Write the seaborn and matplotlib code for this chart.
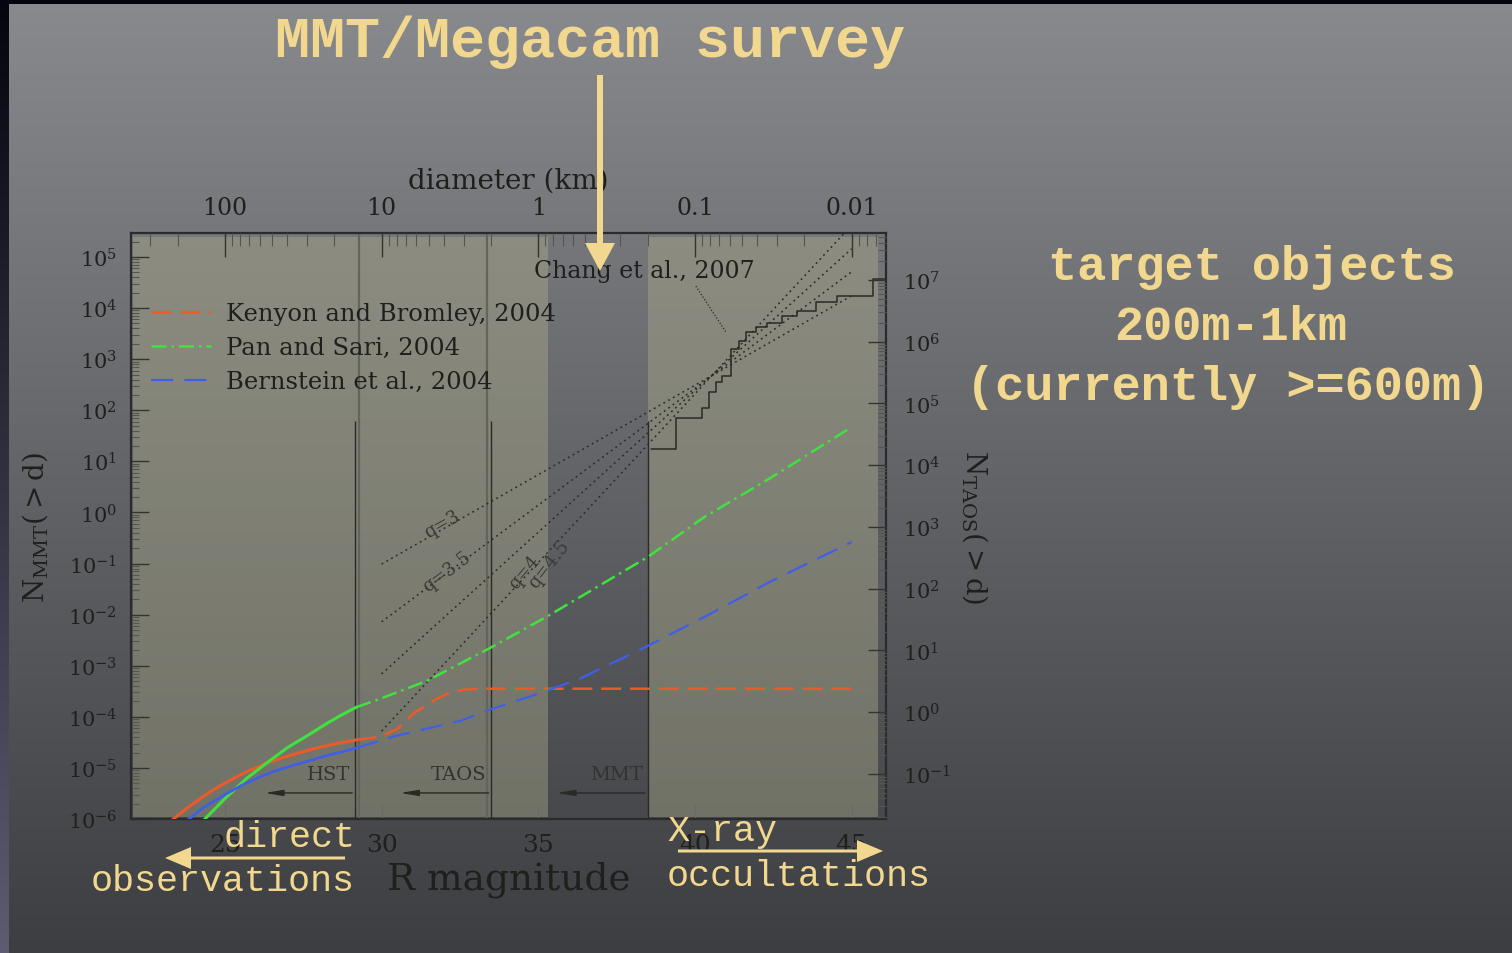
import numpy as np
import matplotlib
matplotlib.use("Agg")
import matplotlib.pyplot as plt
import seaborn as sns
from matplotlib.ticker import LogLocator, NullFormatter, FuncFormatter, NullLocator

# ---- values (x = R magnitude, y = log10 N_MMT(>d)) ----
kb_solid_R = [23.25, 23.8, 24.4, 24.84, 25.6, 26.34, 27.1, 27.8, 28.5, 29.2]
kb_solid_logN = [-6.05, -5.78, -5.52, -5.35, -5.10, -4.90, -4.75, -4.63, -4.53, -4.45]
kb_dash_R = [29.2, 29.94, 30.5, 31.0, 31.75, 32.2, 32.6, 33.1, 45.0]
kb_dash_logN = [-4.45, -4.39, -4.24, -3.94, -3.65, -3.52, -3.47, -3.45, -3.45]

ps_solid_R = [24.28, 25.0, 25.7, 26.34, 27.0, 27.6, 28.25, 28.7, 29.2]
ps_solid_logN = [-6.05, -5.60, -5.20, -4.90, -4.60, -4.38, -4.13, -3.97, -3.81]
ps_dash_R = [29.2, 29.94, 31.43, 33.44, 35.3, 38.5, 40.3, 42.45, 45.0]
ps_dash_logN = [-3.81, -3.65, -3.30, -2.66, -2.03, -0.87, -0.09, 0.69, 1.67]

bern_solid_R = [23.75, 24.3, 25.06, 25.6, 26.1, 26.6, 27.17, 28.25, 29.2]
bern_solid_logN = [-6.05, -5.78, -5.50, -5.32, -5.18, -5.06, -4.95, -4.76, -4.61]
bern_dash_R = [29.2, 30.35, 32.5, 33.5, 34.8, 36.3, 38.5, 40.35, 42.45, 45.0]
bern_dash_logN = [-4.61, -4.39, -4.08, -3.85, -3.59, -3.26, -2.61, -2.03, -1.34, -0.58]

# power-law reference lines (dotted), start at R=30 and end at R=45
q_names = ["q=3", "q=3.5", "q=4", "q=4.5"]
q_R = [30.0, 45.0]
q_start_logN = [-1.01, -2.14, -3.16, -4.28]
q_end_logN = [4.24, 4.71, 5.16, 5.62]
q_label_R = [31.94, 32.07, 34.55, 35.35]
q_label_logN = [-0.22, -1.14, -1.16, -1.01]
q_label_rot = [30, 37, 50, 52]

# Chang et al. 2007 step function
chang_R = [38.60, 39.39, 40.22, 40.45, 40.67, 40.86, 41.15, 41.40, 41.62,
           41.94, 42.29, 42.77, 43.25, 43.85, 44.52, 45.70, 46.08]
chang_logN = [1.24, 1.85, 2.05, 2.36, 2.55, 2.67, 3.20, 3.36, 3.53,
              3.63, 3.71, 3.85, 3.94, 4.12, 4.24, 4.57, 4.57]

# survey limits
limit_names = ["HST", "TAOS", "MMT"]
limit_R = [29.15, 33.5, 38.5]
limit_arrow_R = [26.18, 30.5, 35.5]

YELLOW = "#f1d88e"
INK = "#1f1f1c"

sns.set_theme(style="ticks")
plt.rcParams["font.family"] = ["DejaVu Serif"]
plt.rcParams["mathtext.fontset"] = "dejavuserif"

fig = plt.figure(figsize=(15.12, 9.54), dpi=100)

# slide background (vertical grey gradient, dark edges)
bg = fig.add_axes([0, 0, 1, 1], zorder=-10)
t = np.linspace(0, 1, 954)[:, None, None]
top_c = np.array([137, 138, 142]) / 255
bot_c = np.array([60, 62, 66]) / 255
grad = np.repeat(top_c + (bot_c - top_c) * t, 1512, axis=1)
strip = np.array([5, 5, 15]) / 255 + (np.array([92, 92, 114]) / 255 - np.array([5, 5, 15]) / 255) * t[:, 0]
grad[:, :9, :] = strip[:, None, :]
grad[:5, :, :] = np.array([5, 5, 15]) / 255
bg.imshow(grad, extent=(0, 1512, 954, 0), aspect="auto")
bg.set_xlim(0, 1512)
bg.set_ylim(954, 0)
bg.axis("off")

ax = fig.add_axes([131 / 1512, 1 - 820 / 954, 755 / 1512, 586 / 954])
ax.set_facecolor("none")
ax.set_yscale("log")
ax.set_xlim(22.0, 46.1)
ax.set_ylim(1e-6, 10 ** 5.47)

# shaded panels
ax.axvspan(22.07, 35.3, ymin=0.004, ymax=0.993, color="#adac8c", alpha=0.42, lw=0, zorder=0)
ax.axvspan(38.5, 45.86, ymin=0.004, ymax=0.993, color="#adac8c", alpha=0.42, lw=0, zorder=0)
for xb in [29.27, 33.35]:
    ax.axvline(xb, color="#64645e", lw=1.6, zorder=1)

# model curves
def curve(R, logN, color, ls, lw, label=None):
    sns.lineplot(x=R, y=np.power(10.0, logN), ax=ax, color=color, linestyle=ls, lw=lw,
                 sort=False, estimator=None, label=label, zorder=4)

curve(kb_solid_R, kb_solid_logN, "#ec5a2c", "-", 2.2)
curve(ps_solid_R, ps_solid_logN, "#3fe23f", "-", 2.2)
curve(bern_solid_R, bern_solid_logN, "#3f5fe6", "-", 2.0)
curve(kb_dash_R, kb_dash_logN, "#ec5a2c", (0, (8, 3.5)), 1.8, "Kenyon and Bromley, 2004")
curve(ps_dash_R, ps_dash_logN, "#3fe23f", (0, (6, 2, 1, 2)), 1.8, "Pan and Sari, 2004")
curve(bern_dash_R, bern_dash_logN, "#3f5fe6", (0, (10, 5)), 1.6, "Bernstein et al., 2004")

# power law reference lines
for name, y0, y1, lx, ly, rot in zip(q_names, q_start_logN, q_end_logN,
                                     q_label_R, q_label_logN, q_label_rot):
    sns.lineplot(x=q_R, y=np.power(10.0, [y0, y1]), ax=ax, color="#2a2a26",
                 linestyle=(0, (1.2, 2.4)), lw=1.1, sort=False, estimator=None, zorder=3)
    ax.text(lx, 10 ** ly, name, rotation=rot, fontsize=13, color="#3a3a36",
            ha="center", va="center", zorder=5)

# Chang et al. 2007
sns.lineplot(x=chang_R, y=np.power(10.0, chang_logN), ax=ax, color="#2a2a26", lw=1.1,
             drawstyle="steps-post", sort=False, estimator=None, zorder=3)
ax.text(38.38, 10 ** 4.73, "Chang et al., 2007", fontsize=17, color=INK, ha="center", va="center")
ax.plot([40.03, 40.99], [10 ** 4.43, 10 ** 3.53], color="#2a2a26", lw=0.9, ls=(0, (1, 1.5)))

# survey limits
for name, xr, xa in zip(limit_names, limit_R, limit_arrow_R):
    ax.vlines(xr, 1e-6, 10 ** 1.79, color="#2a2a26", lw=1.0, zorder=2)
    ax.annotate("", xy=(xa, 10 ** -5.49), xytext=(xr, 10 ** -5.49),
                arrowprops=dict(arrowstyle="-|>,head_length=0.9,head_width=0.15",
                                color="#2a2a26", lw=1.0))
    ax.text(xr - 0.15, 10 ** -5.12, name, fontsize=14, color="#33332e", ha="right", va="center")

# axes styling
for s in ax.spines.values():
    s.set_color("#2b2b2b")
    s.set_linewidth(1.6)
ax.set_xticks([25, 30, 35, 40, 45])
ax.xaxis.set_minor_locator(NullLocator())
ax.yaxis.set_major_locator(LogLocator(base=10, numticks=30))
ax.yaxis.set_minor_locator(LogLocator(base=10, subs=np.arange(2, 10), numticks=30))
ax.yaxis.set_minor_formatter(NullFormatter())
ax.tick_params(axis="y", which="major", direction="in", length=13, width=1, colors="#333330",
               labelcolor=INK, labelsize=15, pad=10, left=True, right=False)
ax.tick_params(axis="y", which="minor", direction="in", length=6, width=0.8, colors="#55554f")
ax.tick_params(axis="x", which="major", direction="in", length=10, width=1, colors="#6a6a64",
               labelcolor=INK, labelsize=18, pad=10, top=False, bottom=True)
ax.set_xlabel("R magnitude", fontsize=27, color=INK, va="center")
ax.xaxis.set_label_coords(0.5, -0.102)
ax.set_ylabel(r"$\mathrm{N}_{\mathrm{MMT}}(>\mathrm{d})$", fontsize=20, color=INK, va="center")
ax.yaxis.set_label_coords(-0.127, 0.5)

ax.legend(loc="upper left", bbox_to_anchor=(0.027, 0.882), frameon=False, fontsize=17.5,
          handlelength=2.45, handletextpad=0.62, labelspacing=0.45, borderpad=0, borderaxespad=0,
          labelcolor=INK)

# right axis: N_TAOS(>d)
ax2 = ax.twinx()
ax2.set_yscale("log")
ax2.set_ylim(10 ** -1.73, 10 ** 7.76)
ax2.yaxis.set_major_locator(LogLocator(base=10, numticks=30))
ax2.yaxis.set_minor_locator(LogLocator(base=10, subs=np.arange(2, 10), numticks=30))
ax2.yaxis.set_minor_formatter(NullFormatter())
ax2.tick_params(axis="y", which="major", direction="in", length=13, width=1, colors="#333330",
                labelcolor=INK, labelsize=15, pad=12)
ax2.tick_params(axis="y", which="minor", direction="in", length=6, width=0.8, colors="#55554f")
ax2.set_ylabel(r"$\mathrm{N}_{\mathrm{TAOS}}(>\mathrm{d})$", fontsize=20, color=INK,
               rotation=270, va="center")
ax2.yaxis.set_label_coords(1.118, 0.5)
for s in ax2.spines.values():
    s.set_visible(False)

# top axis: diameter (km), 5 magnitudes per decade, 100 km at R = 25
ax3 = ax.twiny()
ax3.set_xscale("log")
ax3.set_xlim(100 * 10 ** (-(22.0 - 25) / 5), 100 * 10 ** (-(46.1 - 25) / 5))
ax3.xaxis.set_major_locator(LogLocator(base=10, numticks=30))
ax3.xaxis.set_minor_locator(LogLocator(base=10, subs=np.arange(2, 10), numticks=30))
ax3.xaxis.set_major_formatter(FuncFormatter(lambda v, p: "%g" % v))
ax3.xaxis.set_minor_formatter(NullFormatter())
ax3.tick_params(axis="x", which="major", direction="in", length=17, width=1, colors="#333330",
                labelcolor=INK, labelsize=17, pad=10)
ax3.tick_params(axis="x", which="minor", direction="in", length=9, width=0.8, colors="#55554f")
ax3.set_xlabel("diameter (km)", fontsize=20, color=INK, va="center")
ax3.xaxis.set_label_coords(0.5, 1.090)
for s in ax3.spines.values():
    s.set_visible(False)

# slide overlay (pixel coordinates)
ov = fig.add_axes([0, 0, 1, 1], zorder=10)
ov.set_xlim(0, 1512)
ov.set_ylim(954, 0)
ov.axis("off")
ov.patch.set_visible(False)

mono = "Liberation Mono"
ov.text(590, 42, "MMT/Megacam survey", ha="center", va="center", fontsize=42,
        weight="bold", family=mono, color=YELLOW)
ov.arrow(600, 76, 0, 196, width=6, head_width=30, head_length=28,
         length_includes_head=True, color=YELLOW, lw=0)

ov.text(1252, 268, "target objects", ha="center", va="center", fontsize=35,
        weight="bold", family=mono, color=YELLOW)
ov.text(1231, 328, "200m-1km", ha="center", va="center", fontsize=35,
        weight="bold", family=mono, color=YELLOW)
ov.text(1228, 388, "(currently >=600m)", ha="center", va="center", fontsize=35,
        weight="bold", family=mono, color=YELLOW)

ov.text(355, 838, "direct", ha="right", va="center", fontsize=26.5, family=mono, color=YELLOW)
ov.text(355, 882, "observations", ha="right", va="center", fontsize=26.5, family=mono, color=YELLOW)
ov.arrow(345, 859, -180, 0, width=3, head_width=22, head_length=26,
         length_includes_head=True, color=YELLOW, lw=0)

ov.text(667, 832, "X-ray", ha="left", va="center", fontsize=26.5, family=mono, color=YELLOW)
ov.text(667, 877, "occultations", ha="left", va="center", fontsize=26.5, family=mono, color=YELLOW)
ov.arrow(678, 852, 205, 0, width=3, head_width=22, head_length=26,
         length_includes_head=True, color=YELLOW, lw=0)

fig.savefig("out.png", dpi=100)
